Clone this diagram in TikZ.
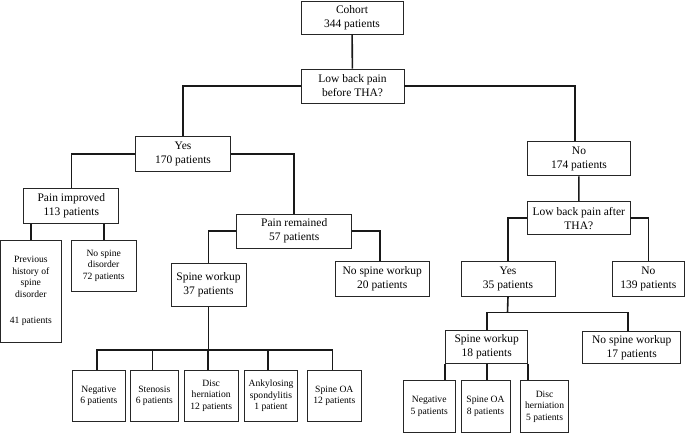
\documentclass[tikz,border=0pt]{standalone}
\usepackage{fontspec}
\setmainfont{Liberation Serif}
\begin{document}
\begin{tikzpicture}[x=1bp,y=-1bp,
  box/.style={draw=black!85,line width=0.9bp,fill=white,inner sep=0pt,align=center,
    font=\fontsize{11.5bp}{14bp}\selectfont},
  sbox/.style={box,font=\fontsize{9.6bp}{11.5bp}\selectfont},
  conn/.style={draw=black!90,line width=1.6bp}]
\useasboundingbox (0,0) rectangle (685,433);
% top level
\node[box,minimum width=102bp,minimum height=33bp] (cohort) at (352,17.5) {Cohort\\344 patients};
\node[box,minimum width=103bp,minimum height=34bp] (lbp) at (352.5,86) {Low back pain\\before THA?};
\node[box,minimum width=94.3bp,minimum height=34.7bp] (yes1) at (183,154.3) {Yes\\170 patients};
\node[box,minimum width=102.6bp,minimum height=34.3bp] (no1) at (579,158.8) {No\\174 patients};
\node[box,minimum width=102.3bp,minimum height=33.3bp] (lbp2) at (578.8,218.3) {Low back pain after\\THA?};
% left branch
\node[box,minimum width=94.7bp,minimum height=35bp] (pimp) at (71.3,205.8) {Pain improved\\113 patients};
\node[box,minimum width=115bp,minimum height=34.3bp] (prem) at (294.2,231.2) {Pain remained\\57 patients};
\node[sbox,minimum width=60.5bp,minimum height=102.3bp] (prev) at (30.8,291.2) {Previous\\history of\\spine\\disorder\\[15bp]41 patients};
\node[sbox,minimum width=64.7bp,minimum height=51bp] (nsd) at (103.7,265.5) {No spine\\disorder\\72 patients};
\node[box,minimum width=75bp,minimum height=42.7bp] (sw1) at (208.5,284.7) {Spine workup\\37 patients};
\node[box,minimum width=94.3bp,minimum height=35bp] (nsw1) at (382.2,279.2) {No spine workup\\20 patients};
% left children
\node[sbox,minimum width=52.3bp,minimum height=50.3bp] (neg1) at (98.8,395.8) {Negative\\6 patients};
\node[sbox,minimum width=47.3bp,minimum height=50.3bp] (sten) at (154.3,395.8) {Stenosis\\6 patients};
\node[sbox,minimum width=53.7bp,minimum height=50.3bp] (disc1) at (211.2,395.8) {Disc\\herniation\\12 patients};
\node[sbox,minimum width=53.4bp,minimum height=50.3bp] (ank) at (271,395.8) {Ankylosing\\spondylitis\\1 patient};
\node[sbox,minimum width=54bp,minimum height=50.3bp] (oa1) at (334.3,395.8) {Spine OA\\12 patients};
% right branch
\node[box,minimum width=94bp,minimum height=34.5bp] (yes2) at (508,278.8) {Yes\\35 patients};
\node[box,minimum width=72.5bp,minimum height=34.5bp] (no2) at (648.3,278.8) {No\\139 patients};
\node[box,minimum width=82bp,minimum height=33.3bp] (sw2) at (486.7,346.7) {Spine workup\\18 patients};
\node[box,minimum width=98bp,minimum height=31.6bp] (nsw2) at (631.7,347.5) {No spine workup\\17 patients};
% right children
\node[sbox,minimum width=51.7bp,minimum height=52bp] (neg2) at (429.2,406.5) {Negative\\5 patients};
\node[sbox,minimum width=49bp,minimum height=52bp] (oa2) at (485.5,406.5) {Spine OA\\8 patients};
\node[sbox,minimum width=48.2bp,minimum height=52bp] (disc2) at (544.6,406.5) {Disc\\herniation\\5 patients};
% bus points
\coordinate (b1) at (208.5,350);
\coordinate (b2) at (507.5,312.7);
% connectors
\draw[conn] (cohort) -- (lbp);
\draw[conn] (lbp.west) -| (yes1.north);
\draw[conn] (lbp.east) -| ([xshift=-4bp]no1.north);
\draw[conn] (no1) -- (lbp2);
\draw[conn] (yes1.west) -| (pimp.north);
\draw[conn] (yes1.east) -| (prem.north);
\draw[conn] (pimp.south -| prev.north) -- (prev.north);
\draw[conn] (pimp.south -| nsd.north) -- (nsd.north);
\draw[conn] (prem.west) -| (sw1.north);
\draw[conn] (prem.east) -| ([xshift=-2bp]nsw1.north);
\draw[conn] (sw1.south) -- (b1);
\draw[conn] ([xshift=-2bp]neg1.north) |- (b1) -| ([xshift=-2bp]oa1.north);
\draw[conn] ([xshift=-2bp]sten.north) -- ([xshift=-2bp]sten.north |- b1);
\draw[conn] ([xshift=-3bp]disc1.north) -- ([xshift=-3bp]disc1.north |- b1);
\draw[conn] ([xshift=-3bp]ank.north) -- ([xshift=-3bp]ank.north |- b1);
\draw[conn] (lbp2.west) -| (yes2.north);
\draw[conn] (lbp2.east) -| (no2.north);
\draw[conn] (yes2.south) -- (b2);
\draw[conn] (sw2.north) |- (b2) -| ([xshift=-4bp]nsw2.north);
\draw[conn] (sw2.south west) -- (sw2.south west |- neg2.north);
\draw[conn] (sw2.south) -- (sw2.south |- oa2.north);
\draw[conn] (sw2.south east) -- (sw2.south east |- disc2.north);
\end{tikzpicture}
\end{document}
